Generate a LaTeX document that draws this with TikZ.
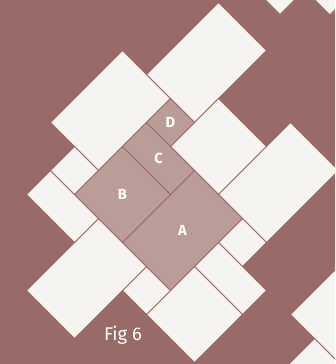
\documentclass[tikz,border=0pt]{standalone}
\usepackage{fontspec}
\setmainfont{Fira Sans}
\definecolor{mauvebg}{RGB}{152, 107, 105}
\definecolor{tilewhite}{RGB}{245, 244, 241}
\definecolor{piecepink}{RGB}{186, 157, 153}

\begin{document}
\begin{tikzpicture}[
    tile/.style={
        draw=mauvebg, fill=tilewhite, line width=0.8pt
    },
    piece/.style={
        draw=mauvebg, fill=piecepink, line width=0.8pt
    },
    lbl/.style={
        text=white, inner sep=0pt,
        font=\bfseries\fontsize{12.5}{14}\selectfont
    },
    caption/.style={
        text=white, inner sep=0pt, anchor=base,
        font=\fontsize{15.7}{18}\selectfont
    }
]

% Background
\fill[mauvebg] (0,0) rectangle (10.05,10.92);
\useasboundingbox (0,0) rectangle (10.05,10.92);
\clip (0,0) rectangle (10.05,10.92);

% Tilted grid (one unit = one small square)
\begin{scope}[shift={(2.235,5.085)}, rotate=-45, scale=1.0182]
    % white tiles
    \draw[tile] (-2,1) rectangle (0,4);
    \draw[tile] (-1,4) rectangle (1,7);
    \draw[tile] (1,3) rectangle (3,5);
    \draw[tile] (3,3) rectangle (5,6);
    \draw[tile] (4,2) rectangle (5,3);
    \draw[tile] (4,1) rectangle (6,2);
    \draw[tile] (4,-1) rectangle (6,1);
    \draw[tile] (3,-1) rectangle (4,0);
    \draw[tile] (1,-3) rectangle (3,0);
    \draw[tile] (-1,-1) rectangle (1,0);
    \draw[tile] (-1,0) rectangle (0,1);
    \draw[tile] (7,2) rectangle (10,6);
    \draw[tile] (8,-2) rectangle (10,2);
    \draw[tile] (-1.5,8.03) rectangle (0.53,10);
    \draw[tile] (-0.5,9.06) rectangle (1.58,11);

    % pink pieces
    \draw[piece] (2,0) rectangle (4,3);
    \draw[piece] (0,0) rectangle (2,2);
    \draw[piece] (0,2) rectangle (2,3);
    \draw[piece] (0,3) rectangle (1,4);

    \node[lbl] (A) at (3,1.5) {A};
    \node[lbl] (B) at (1,1) {B};
    \node[lbl] (C) at (1,2.5) {C};
    \node[lbl] (D) at (0.5,3.5) {D};
\end{scope}

\node[caption] (fig) at (3.69,0.69) {Fig 6};

\end{tikzpicture}
\end{document}
